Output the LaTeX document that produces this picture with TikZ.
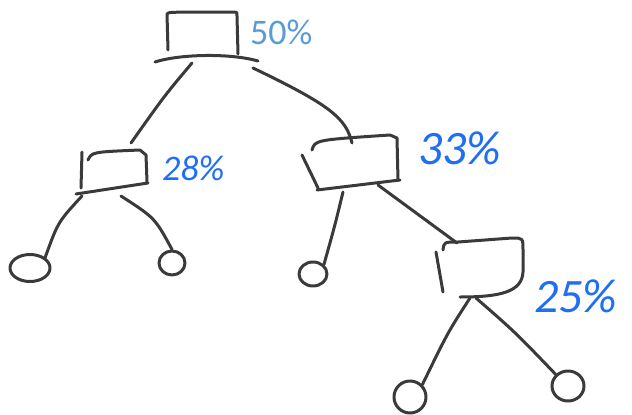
\documentclass[tikz,border=0pt]{standalone}
\usepackage{fontspec}
\setmainfont{Carlito}
\usetikzlibrary{shapes.geometric}
\definecolor{ink}{HTML}{3A3A3A}
\definecolor{lbl}{HTML}{5B9BD5}
\definecolor{hand}{HTML}{1F6FF2}
\begin{document}
\begin{tikzpicture}[x=1pt,y=-1pt,line cap=round,line join=round,
  sk/.style={draw=ink,line width=3pt},
  leafnode/.style={ellipse,draw=ink,line width=3pt,inner sep=0pt},
  pct/.style={font=\fontsize{36}{40}\selectfont,inner sep=0pt},
  hpct/.style={pct,text=hand}]
\useasboundingbox (0,0) rectangle (632,415);
% ---- root box (50%)
\path[sk] (168,50) -- (167,14) .. controls (168,12) .. (234,12) .. controls (237,12) .. (237,16) -- (238,54);
\path[sk] (155,62) .. controls (180,54) and (230,53) .. (258,61);
\coordinate (rootL) at (192,63);
\coordinate (rootR) at (253,68);
\node[pct,text=lbl,anchor=west] (p50) at (250,32) {50\%};
% ---- box 28%
\path[sk] (88,160) .. controls (92,152) .. (140,150) -- (146,155) -- (147,182);
\path[sk] (82,152) -- (81,188);
\path[sk] (76,194) -- (148,183);
\coordinate (b28T) at (131,143);
\coordinate (b28L) at (82,196);
\coordinate (b28R) at (121,196);
\node[hpct,anchor=west,font=\fontsize{36}{40}\selectfont\itshape] (p28) at (162,168) {28\%};
% ---- box 33%
\path[sk] (312,150) .. controls (315,140) .. (390,135) -- (397,138) -- (398,180);
\path[sk] (302,155) -- (318,188);
\path[sk] (317,190) -- (400,180);
\coordinate (b33T) at (352,143);
\coordinate (b33L) at (343,192);
\coordinate (b33R) at (378,185);
\node[hpct,anchor=west,font=\fontsize{48}{52}\selectfont\itshape] (p33) at (418,148) {33\%};
% ---- box 25%
\path[sk] (443,250) .. controls (444,242) .. (458,242) -- (512,238) .. controls (523,238) .. (523,250) -- (523,272) .. controls (522,292) and (500,297) .. (460,297);
\path[sk] (436,252) -- (443,292);
\coordinate (b25T) at (457,243);
\coordinate (b25L) at (470,298);
\coordinate (b25R) at (476,298);
\node[hpct,anchor=west,font=\fontsize{48}{52}\selectfont\itshape] (p25) at (534,296) {25\%};
% ---- leaves
\node[leafnode,minimum width=40pt,minimum height=27pt] (l1) at (30,268) {};
\node[leafnode,minimum width=26pt,minimum height=24pt] (l2) at (172,263) {};
\node[leafnode,minimum width=28pt,minimum height=24pt] (l3) at (313,274) {};
\node[leafnode,minimum width=32pt,minimum height=32pt] (l4) at (410,397) {};
\node[leafnode,minimum width=32pt,minimum height=30pt] (l5) at (568,386) {};
% ---- connectors
\draw[sk] (rootL) .. controls (165,95) .. (b28T);
\draw[sk] (rootR) .. controls (330,105) and (346,118) .. (b33T);
\draw[sk] (b28L) .. controls (58,222) .. (l1.north east);
\draw[sk] (b28R) .. controls (155,218) .. (l2.north);
\draw[sk] (b33L) .. controls (335,225) .. (l3.north east);
\draw[sk] (b33R) -- (b25T);
\draw[sk] (b25L) .. controls (448,332) .. (l4.north east);
\draw[sk] (b25R) .. controls (515,332) .. (l5.north west);
\end{tikzpicture}
\end{document}
